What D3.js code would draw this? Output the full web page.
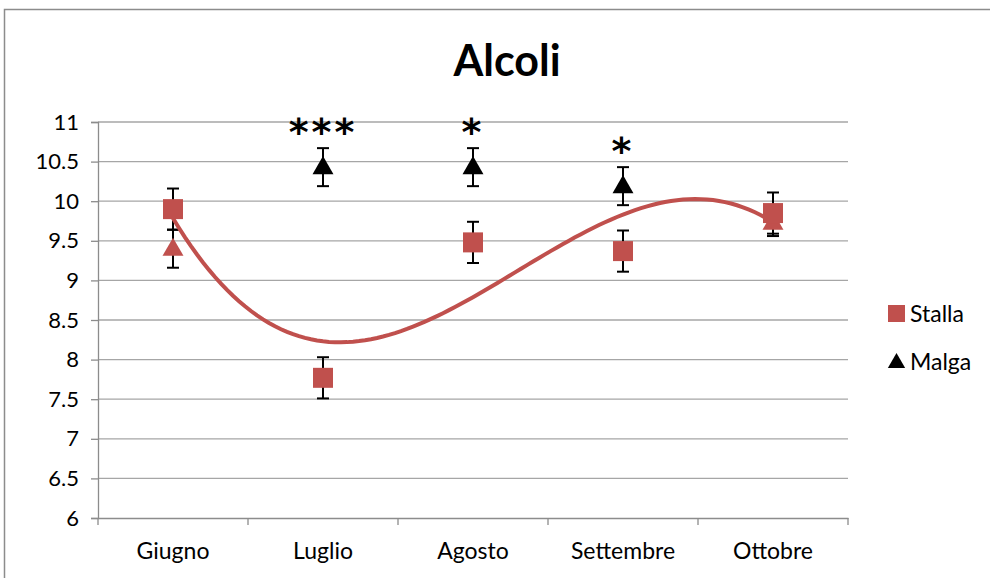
<!DOCTYPE html>
<html>
<head>
<meta charset="utf-8">
<script src="https://cdn.jsdelivr.net/npm/d3@7"></script>
<style>
  html, body { margin: 0; padding: 0; background: #fff; }
  svg { display: block; font-family: Lato, "Open Sans", sans-serif; }
</style>
</head>
<body>
<svg id="chart" width="990" height="578"></svg>
<script>
// Monthly alcohol content, two farm types
const months = ["Giugno", "Luglio", "Agosto", "Settembre", "Ottobre"];
const stalla = [9.90, 7.77, 9.48, 9.37, 9.85];
const stallaErr = [0.26, 0.26, 0.26, 0.26, 0.26];
const malga = [9.40, 10.43, 10.43, 10.19, 9.73];
const malgaErr = [0.24, 0.24, 0.24, 0.24, 0.17];
const signif = ["", "***", "*", "*", ""];
const yTicks = [6, 6.5, 7, 7.5, 8, 8.5, 9, 9.5, 10, 10.5, 11];

const red = "#c0504d";
const font = "Lato, 'Open Sans', sans-serif";
const svg = d3.select("#chart");

const plot = { left: 98, right: 848, top: 122, bottom: 518 };

const x = d3.scaleBand().domain(months).range([plot.left, plot.right]);
const y = d3.scaleLinear().domain([6, 11]).range([plot.bottom, plot.top]);
const cx = m => x(m) + x.bandwidth() / 2;

// chart frame
svg.append("rect")
  .attr("x", 4.5).attr("y", 9.5).attr("width", 1100).attr("height", 700)
  .attr("fill", "none").attr("stroke", "#8c8c8c").attr("stroke-width", 1.5);

// title
svg.append("text")
  .attr("x", 507).attr("y", 76)
  .attr("text-anchor", "middle")
  .attr("font-size", 43).attr("font-weight", "bold")
  .text("Alcoli");

// horizontal gridlines
svg.append("g").selectAll("line").data(yTicks.filter(t => t > 6)).join("line")
  .attr("x1", plot.left).attr("x2", plot.right)
  .attr("y1", d => y(d)).attr("y2", d => y(d))
  .attr("stroke", "#a6a6a6").attr("stroke-width", 1.3);

// y axis
const yAxis = svg.append("g")
  .attr("transform", `translate(${plot.left},0)`)
  .call(d3.axisLeft(y).tickValues(yTicks).tickSize(7).tickPadding(12).tickFormat(d3.format("")));
yAxis.select(".domain").attr("stroke", "#8c8c8c").attr("stroke-width", 1.3);
yAxis.selectAll(".tick line").attr("stroke", "#8c8c8c").attr("stroke-width", 1.3);
yAxis.selectAll("text").attr("font-size", 22).attr("fill", "#000").attr("font-family", font);

// x axis
const xAxis = svg.append("g")
  .attr("transform", `translate(0,${plot.bottom})`)
  .call(d3.axisBottom(x).tickSize(0).tickPadding(25));
xAxis.select(".domain").attr("stroke", "#8c8c8c").attr("stroke-width", 1.3);
xAxis.selectAll("text").attr("font-size", 23).attr("fill", "#000").attr("font-family", font);
// category boundary ticks
const bounds = months.map(m => x(m)).concat([plot.right]);
svg.append("g").selectAll("line").data(bounds).join("line")
  .attr("x1", d => d).attr("x2", d => d)
  .attr("y1", plot.bottom).attr("y2", plot.bottom + 7)
  .attr("stroke", "#8c8c8c").attr("stroke-width", 1.3);

// error bars
function errorBars(vals, errs) {
  const g = svg.append("g").attr("stroke", "#000").attr("stroke-width", 2);
  vals.forEach((v, i) => {
    const px = cx(months[i]);
    g.append("line").attr("x1", px).attr("x2", px).attr("y1", y(v - errs[i])).attr("y2", y(v + errs[i]));
    [v - errs[i], v + errs[i]].forEach(e => {
      g.append("line").attr("x1", px - 6).attr("x2", px + 6).attr("y1", y(e)).attr("y2", y(e));
    });
  });
}
errorBars(malga, malgaErr);
errorBars(stalla, stallaErr);

// cubic polynomial trendline fitted to the Stalla means (least squares)
function polyFit(xs, ys, order) {
  const n = order + 1;
  const A = Array.from({ length: n }, () => new Array(n + 1).fill(0));
  for (let r = 0; r < n; r++) {
    for (let c = 0; c < n; c++) A[r][c] = d3.sum(xs, xv => Math.pow(xv, r + c));
    A[r][n] = d3.sum(xs, (xv, k) => ys[k] * Math.pow(xv, r));
  }
  for (let i = 0; i < n; i++) {
    let p = i;
    for (let k = i + 1; k < n; k++) if (Math.abs(A[k][i]) > Math.abs(A[p][i])) p = k;
    [A[i], A[p]] = [A[p], A[i]];
    for (let k = i + 1; k < n; k++) {
      const f = A[k][i] / A[i][i];
      for (let c = i; c <= n; c++) A[k][c] -= f * A[i][c];
    }
  }
  const coef = new Array(n).fill(0);
  for (let i = n - 1; i >= 0; i--) {
    let s = A[i][n];
    for (let c = i + 1; c < n; c++) s -= A[i][c] * coef[c];
    coef[i] = s / A[i][i];
  }
  return t => coef.reduce((acc, a, k) => acc + a * Math.pow(t, k), 0);
}
const idx = months.map((_, i) => i + 1);
const trend = polyFit(idx, stalla, 3);
const xi = d3.scaleLinear().domain([1, 5]).range([cx(months[0]), cx(months[4])]);
const samples = d3.range(1, 5.0001, 0.04);
svg.append("path")
  .datum(samples)
  .attr("fill", "none").attr("stroke", red).attr("stroke-width", 4)
  .attr("stroke-linecap", "round")
  .attr("d", d3.line().x(t => xi(t)).y(t => y(trend(t))));

// Malga triangles
const tri = d3.symbol().type(d3.symbolTriangle).size(190);
svg.append("g").selectAll("path").data(malga).join("path")
  .attr("d", tri)
  .attr("transform", (d, i) => `translate(${cx(months[i])},${y(d) + 1})`)
  .attr("fill", (d, i) => i === 0 || i === 4 ? red : "#000");

// Stalla squares
svg.append("g").selectAll("rect").data(stalla).join("rect")
  .attr("x", (d, i) => cx(months[i]) - 10).attr("y", d => y(d) - 10)
  .attr("width", 20).attr("height", 20)
  .attr("fill", red);

// significance marks
svg.append("g").selectAll("text").data(signif).join("text")
  .attr("x", (d, i) => cx(months[i]))
  .attr("y", (d, i) => y(malga[i] + malgaErr[i]) - 3)
  .attr("text-anchor", "middle")
  .attr("font-size", 38).attr("font-weight", "bold")
  .attr("font-family", "'DejaVu Sans', sans-serif")
  .attr("letter-spacing", 3)
  .text(d => d);

// legend
const leg = svg.append("g").attr("font-size", 23).attr("font-family", font);
leg.append("rect").attr("x", 888).attr("y", 305).attr("width", 17).attr("height", 17).attr("fill", red);
leg.append("text").attr("x", 910).attr("y", 322).text("Stalla");
leg.append("path").attr("d", d3.symbol().type(d3.symbolTriangle).size(130))
  .attr("transform", "translate(896.5,363)").attr("fill", "#000");
leg.append("text").attr("x", 910).attr("y", 370).text("Malga");
</script>
</body>
</html>
